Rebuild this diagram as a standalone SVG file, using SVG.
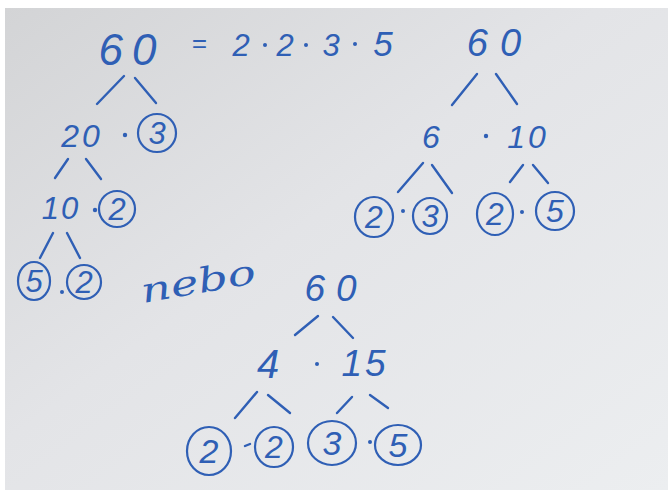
<svg xmlns="http://www.w3.org/2000/svg" width="668" height="490" viewBox="0 0 668 490">
<defs>
<linearGradient id="paper" x1="0" y1="0" x2="1" y2="1">
<stop offset="0" stop-color="#d3d4d6"/>
<stop offset="0.45" stop-color="#e3e4e7"/>
<stop offset="1" stop-color="#eceef0"/>
</linearGradient>
<style>
.t{font-family:"Liberation Sans",Arial,sans-serif;font-style:italic;fill:#2f5fb5;text-anchor:middle}
.c{fill:none;stroke:#2f5fb5;stroke-width:2.2}
.l{stroke:#2f5fb5;stroke-width:2.4;stroke-linecap:round;fill:none}
.d{fill:#2f5fb5}
.n{font-family:"DejaVu Serif",serif;font-style:italic;fill:#2f5fb5}
</style>
</defs>
<rect width="668" height="490" fill="#ffffff"/>
<rect x="5" y="8" width="663" height="482" fill="url(#paper)"/>

<g id="connectors">
<line class="l" x1="97" y1="104" x2="124" y2="76"/>
<line class="l" x1="135" y1="78" x2="156" y2="103"/>
<line class="l" x1="55" y1="178" x2="68" y2="159"/>
<line class="l" x1="86" y1="159" x2="101" y2="179"/>
<line class="l" x1="53" y1="233" x2="40" y2="258"/>
<line class="l" x1="67" y1="233" x2="80" y2="258"/>
<line class="l" x1="452" y1="105" x2="477" y2="74"/>
<line class="l" x1="496" y1="74" x2="517" y2="104"/>
<line class="l" x1="398" y1="192" x2="423" y2="163"/>
<line class="l" x1="432" y1="165" x2="452" y2="193"/>
<line class="l" x1="510" y1="182" x2="523" y2="165"/>
<line class="l" x1="533" y1="165" x2="548" y2="183"/>
<line class="l" x1="295" y1="335" x2="318" y2="316"/>
<line class="l" x1="333" y1="317" x2="353" y2="338"/>
<line class="l" x1="235" y1="418" x2="257" y2="392"/>
<line class="l" x1="268" y1="395" x2="290" y2="413"/>
<line class="l" x1="337" y1="413" x2="352" y2="397"/>
<line class="l" x1="370" y1="395" x2="388" y2="408"/>
</g>

<g id="tree1-root">
<text class="t" x="132" y="65" font-size="44" letter-spacing="9">60</text>
</g>
<g id="equation">
<text class="t" x="199" y="52" font-size="26">=</text>
<text class="t" x="241" y="56" font-size="31">2</text>
<circle class="d" cx="265" cy="45" r="2"/>
<text class="t" x="285" y="56" font-size="31">2</text>
<circle class="d" cx="306" cy="45" r="2"/>
<text class="t" x="331" y="56" font-size="31">3</text>
<circle class="d" cx="355" cy="44" r="2"/>
<text class="t" x="383" y="56" font-size="35">5</text>
</g>
<g id="tree1-20">
<text class="t" x="82" y="147" font-size="32" letter-spacing="3">20</text>
<circle class="d" cx="125" cy="135" r="2.2"/>
</g>
<g id="tree1-3">
<ellipse class="c" cx="157" cy="133" rx="19" ry="19"/>
<text class="t" x="157" y="144" font-size="31">3</text>
</g>
<g id="tree1-10">
<text class="t" x="61" y="219" font-size="31" letter-spacing="2">10</text>
<circle class="d" cx="95" cy="210" r="2.2"/>
</g>
<g id="tree1-2a">
<ellipse class="c" cx="117" cy="209" rx="18" ry="18"/>
<text class="t" x="117" y="220" font-size="31">2</text>
</g>
<g id="tree1-5">
<ellipse class="c" cx="34" cy="281" rx="16" ry="19"/>
<text class="t" x="34" y="292" font-size="31">5</text>
<circle class="d" cx="62" cy="292" r="2"/>
</g>
<g id="tree1-2b">
<ellipse class="c" cx="84" cy="282" rx="17" ry="17"/>
<text class="t" x="84" y="293" font-size="31">2</text>
</g>

<g id="nebo">
<text class="n" x="143" y="303" font-size="34" textLength="116" lengthAdjust="spacingAndGlyphs" transform="rotate(-10 143 303)">nebo</text>
</g>

<g id="tree2-root">
<text class="t" x="500" y="56" font-size="38" letter-spacing="12">60</text>
</g>
<g id="tree2-6">
<text class="t" x="431" y="148" font-size="32">6</text>
<circle class="d" cx="486" cy="136" r="2.2"/>
</g>
<g id="tree2-10">
<text class="t" x="528" y="148" font-size="32" letter-spacing="3">10</text>
</g>
<g id="tree2-2a">
<ellipse class="c" cx="374" cy="217" rx="19" ry="20"/>
<text class="t" x="374" y="228" font-size="32">2</text>
<circle class="d" cx="403" cy="211" r="2"/>
</g>
<g id="tree2-3">
<ellipse class="c" cx="430" cy="216" rx="17" ry="18"/>
<text class="t" x="430" y="227" font-size="31">3</text>
</g>
<g id="tree2-2b">
<ellipse class="c" cx="495" cy="214" rx="18" ry="21"/>
<text class="t" x="495" y="225" font-size="32">2</text>
<circle class="d" cx="522" cy="212" r="2"/>
</g>
<g id="tree2-5">
<ellipse class="c" cx="555" cy="211" rx="19" ry="19"/>
<text class="t" x="555" y="222" font-size="32">5</text>
</g>

<g id="tree3-root">
<text class="t" x="336" y="301" font-size="37" letter-spacing="11">60</text>
</g>
<g id="tree3-4">
<text class="t" x="268" y="378" font-size="40">4</text>
<circle class="d" cx="317" cy="364" r="2"/>
</g>
<g id="tree3-15">
<text class="t" x="365" y="376" font-size="37" letter-spacing="3">15</text>
</g>
<g id="tree3-2a">
<ellipse class="c" cx="209" cy="451" rx="22" ry="24"/>
<text class="t" x="209" y="463" font-size="34">2</text>
<line class="l" x1="245" y1="446" x2="250" y2="444"/>
</g>
<g id="tree3-2b">
<ellipse class="c" cx="274" cy="447" rx="19" ry="20"/>
<text class="t" x="274" y="458" font-size="32">2</text>
</g>
<g id="tree3-3">
<ellipse class="c" cx="332" cy="443" rx="24" ry="22"/>
<text class="t" x="332" y="455" font-size="34">3</text>
<circle class="d" cx="370" cy="442" r="2"/>
</g>
<g id="tree3-5">
<ellipse class="c" cx="398" cy="445" rx="23" ry="20"/>
<text class="t" x="398" y="457" font-size="34">5</text>
</g>
</svg>
